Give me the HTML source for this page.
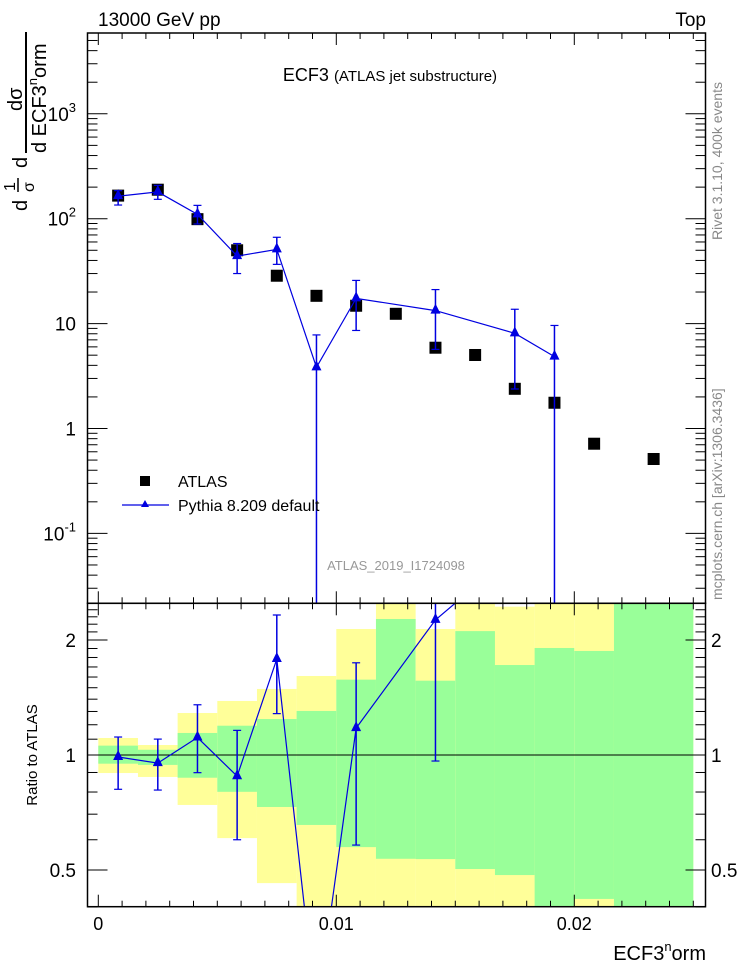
<!DOCTYPE html>
<html><head><meta charset="utf-8"><style>
html,body{margin:0;padding:0;background:#fff;width:746px;height:972px;overflow:hidden;}
svg{display:block;font-family:"Liberation Sans",Arial,sans-serif;}
</style></head><body>
<svg id="chart" width="746" height="972" viewBox="0 0 746 972" xmlns="http://www.w3.org/2000/svg">
<g id="bands"></g>
<g id="marks"></g>
<g id="axes"></g>
<text x="98" y="26" font-size="19">13000 GeV pp</text>
<text x="706" y="26" font-size="19" text-anchor="end">Top</text>
<text x="390" y="81" font-size="18" text-anchor="middle">ECF3 <tspan font-size="15">(ATLAS jet substructure)</tspan></text>
<text x="396" y="570" font-size="13" fill="#999" text-anchor="middle">ATLAS_2019_I1724098</text>
<text transform="translate(722,240) rotate(-90)" font-size="14" fill="#888">Rivet 3.1.10, 400k events</text>
<text transform="translate(722,600) rotate(-90)" font-size="14" fill="#888">mcplots.cern.ch [arXiv:1306.3436]</text>
<text transform="translate(37,755) rotate(-90)" font-size="15" text-anchor="middle">Ratio to ATLAS</text>
<text x="706" y="960" font-size="20" text-anchor="end">ECF3<tspan font-size="13" dy="-9">n</tspan><tspan dy="9">orm</tspan></text>
<g font-size="20">
  <text transform="translate(27,211) rotate(-90)">d</text>
  <text transform="translate(15,191) rotate(-90)" font-size="16">1</text>
  <line x1="18" y1="178" x2="18" y2="192" stroke="#000" stroke-width="1.5"/>
  <text transform="translate(34,192) rotate(-90)" font-size="16">σ</text>
  <text transform="translate(27,168) rotate(-90)">d</text>
  <text transform="translate(22,111) rotate(-90)">dσ</text>
  <line x1="26" y1="32" x2="26" y2="153" stroke="#000" stroke-width="2"/>
  <text transform="translate(46,153) rotate(-90)">d ECF3<tspan font-size="13" dy="-9">n</tspan><tspan dy="9">orm</tspan></text>
</g>
<g>
  <rect x="140" y="476" width="10" height="10" fill="#000"/>
  <text x="178" y="487" font-size="16">ATLAS</text>
  <line x1="122" y1="505" x2="169" y2="505" stroke="#0000e0" stroke-width="1.2"/>
  <polygon points="145,500 141,507 149,507" fill="#0000e0"/>
  <text x="178" y="511" font-size="16">Pythia 8.209 default</text>
</g>
</svg>
<script>
// bins (edges in ECF3norm)
const binEdges = [0,0.0016667,0.0033333,0.005,0.0066667,0.0083333,0.01,0.0116667,0.0133333,0.015,0.0166667,0.0183333,0.02,0.0216667,0.025];
const atlasValues = [166,189,99,50,28.6,18.4,14.8,12.4,5.89,5.02,2.39,1.76,0.716,0.512];
// Pythia values (null = no point)
const pythiaValues = [164,180,110,44,51,3.83,17.4,null,13.3,null,8.08,4.84,null,null];
const pythiaErrUp =  [185,208,134,58,66.5,7.8,25.8,null,21.1,null,13.7,9.6,null,null];
const pythiaErrDn =  [135,153,89,30,36.7,0.001,8.6,null,5.68,null,2.38,0.001,null,null];
// data uncertainty bands in ratio
const yellowHi = [1.108,1.062,1.288,1.385,1.489,1.610,2.137,3,2.137,3,2.445,3,3,3];
const yellowLo = [0.897,0.876,0.740,0.606,0.462,0.3,0.3,0.3,0.3,0.3,0.3,0.3,0.3,0.3];
const greenHi  = [1.058,1.032,1.142,1.193,1.242,1.304,1.575,2.27,1.565,2.11,1.72,1.906,1.872,3];
const greenLo  = [0.949,0.942,0.872,0.801,0.731,0.656,0.574,0.535,0.534,0.503,0.485,0.3,0.420,0.3];
const xTickLabels = ["0","0.01","0.02"];
const yTickLabels = ["10^-1","1","10","10^2","10^3"];
const ratioTickLabels = ["0.5","1","2"];

const NS="http://www.w3.org/2000/svg";
const L=87.5,R=705.5,T=33,MB=603.3,RB=906.7;
const X=v=>98.3+v*23800;
const Y=v=>428.5-104.9*Math.log10(v);
const RY=v=>755-115*Math.log2(v);
function mk(parent,tag,attrs){const e=document.createElementNS(NS,tag);for(const k in attrs)e.setAttribute(k,attrs[k]);parent.appendChild(e);return e;}
const bands=document.getElementById('bands'),marks=document.getElementById('marks'),axes=document.getElementById('axes');
const clampR=v=>Math.min(RB,Math.max(MB,RY(v)));
const nb=atlasValues.length;
for(let i=0;i<nb;i++){
  const x0=X(binEdges[i]),x1=X(binEdges[i+1]);
  let y0=clampR(yellowHi[i]),y1=clampR(yellowLo[i]);
  const yr=mk(bands,'rect',{x:x0,y:y0,width:x1-x0,height:y1-y0,fill:'#ffff99'});
  
  
  y0=clampR(greenHi[i]);y1=clampR(greenLo[i]);
  const gb=mk(bands,'rect',{x:x0,y:y0,width:x1-x0,height:y1-y0,fill:'#99ff99'});
  
  
}
mk(bands,'line',{x1:L,y1:RY(1),x2:R,y2:RY(1),stroke:'#000','stroke-width':1});
const centers=[];for(let i=0;i<nb;i++)centers.push((binEdges[i]+binEdges[i+1])/2);
const defs=mk(document.getElementById('chart'),'defs',{});
const c1=mk(defs,'clipPath',{id:'cm'});mk(c1,'rect',{x:L,y:T,width:R-L,height:MB-T});
const c2=mk(defs,'clipPath',{id:'cr'});mk(c2,'rect',{x:L,y:MB,width:R-L,height:RB-MB});
const gm=mk(marks,'g',{'clip-path':'url(#cm)'}),gr=mk(marks,'g',{'clip-path':'url(#cr)'});
const blue='#0000e0';
for(let i=0;i<nb;i++){
  const s=mk(gm,'rect',{x:X(centers[i])-6,y:Y(atlasValues[i])-6,width:12,height:12,fill:'#000'});
  
  
}
let pts=[],rpts=[];
for(let i=0;i<nb;i++){
  if(pythiaValues[i]==null)continue;
  const x=X(centers[i]),y=Y(pythiaValues[i]);
  pts.push(x+','+y);
  rpts.push(x+','+RY(pythiaValues[i]/atlasValues[i]));
}
const pl=mk(gm,'polyline',{points:pts.join(' '),fill:'none',stroke:blue,'stroke-width':1.2});


const rl=mk(gr,'polyline',{points:rpts.join(' '),fill:'none',stroke:blue,'stroke-width':1.2});


function tri(g,x,y,name){const p=mk(g,'polygon',{points:`${x},${y-7} ${x-5},${y+3} ${x+5},${y+3}`,fill:blue});
  
  }
function err(g,x,y0,y1){mk(g,'line',{x1:x,y1:y0,x2:x,y2:y1,stroke:blue,'stroke-width':1.5});
  mk(g,'line',{x1:x-4,y1:y0,x2:x+4,y2:y0,stroke:blue,'stroke-width':1.2});
  mk(g,'line',{x1:x-4,y1:y1,x2:x+4,y2:y1,stroke:blue,'stroke-width':1.2});}
for(let i=0;i<nb;i++){
  if(pythiaValues[i]==null)continue;
  const x=X(centers[i]);
  err(gm,x,Y(pythiaErrUp[i]),Y(pythiaErrDn[i]));
  tri(gm,x,Y(pythiaValues[i]),'pythia-point-'+(i+1));
  const a=atlasValues[i],ry=RY(pythiaValues[i]/a);
  if(ry<MB-2||ry>RB+2)continue;
  err(gr,x,RY(pythiaErrUp[i]/a),RY(pythiaErrDn[i]/a));
  tri(gr,x,ry,'pythia-ratio-point-'+(i+1));
}
mk(axes,'rect',{x:L,y:T,width:R-L,height:MB-T,fill:'none',stroke:'#000','stroke-width':1.5});
mk(axes,'rect',{x:L,y:MB,width:R-L,height:RB-MB,fill:'none',stroke:'#000','stroke-width':1.5});
const ln=(x1,y1,x2,y2)=>mk(axes,'line',{x1,y1,x2,y2,stroke:'#000','stroke-width':1});
for(let k=0;k<=25;k++){
  const v=k*0.001,x=X(v),len=(k%10==0)?12:6;
  [[T,1],[MB,-1],[MB,1],[RB,-1]].forEach(([y,d])=>ln(x,y,x,y+d*len));
}
xTickLabels.forEach((t,i)=>{const tx=mk(axes,'text',{x:X(i*0.01),y:930,'font-size':18,'text-anchor':'middle'});tx.textContent=t;
  
  });
for(let d=-2;d<=3;d++){for(let m=1;m<=9;m++){const v=m*Math.pow(10,d),y=Y(v);if(y<T||y>MB)continue;
  const len=m==1?20:10;ln(L,y,L+len,y);ln(R,y,R-len,y);}}
yTickLabels.forEach((t,i)=>{const y=Y(Math.pow(10,i-1));const tx=mk(axes,'text',{x:76,y:y+7,'font-size':19,'text-anchor':'end'});
  const p=t.split('^');tx.textContent=p[0];
  if(p[1]){const ts=mk(tx,'tspan',{'font-size':13,dy:-9});ts.textContent=p[1];}
  
  });
[0.4,0.5,0.6,0.7,0.8,0.9,1,1.1,1.2,1.3,1.4,1.5,1.6,1.7,1.8,1.9,2,2.1,2.2,2.3,2.4].forEach(v=>{const y=RY(v);
  const len=(v==0.5||v==1||v==2)?20:10;ln(L,y,L+len,y);ln(R,y,R-len,y);});
ratioTickLabels.forEach(t=>{const y=RY(parseFloat(t))+7;
  const a=mk(axes,'text',{x:76,y:y,'font-size':19,'text-anchor':'end'});a.textContent=t;
  
  
  const b=mk(axes,'text',{x:711,y:y,'font-size':19});b.textContent=t;
  
  });
</script>
</body></html>
